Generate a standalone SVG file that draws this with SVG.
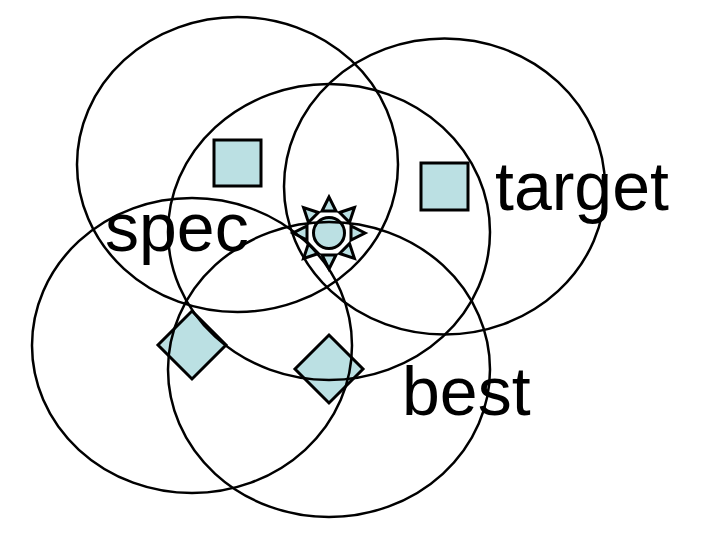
<svg xmlns="http://www.w3.org/2000/svg" xmlns:xlink="http://www.w3.org/1999/xlink" width="720" height="540" viewBox="0 0 720 540">
<style>
.ring{fill:none;stroke:#000;stroke-width:2.5}
.shape{fill:#BBE0E3;stroke:#000;stroke-width:3;stroke-linejoin:miter}
.lbl{font-family:"Liberation Sans",Arial,sans-serif;font-size:68px;fill:#000}
</style>
<defs>
<polygon id="ray" points="0,-36 -7,-22 7,-22" class="shape" style="stroke-width:3"/>
</defs>
<rect width="720" height="540" fill="#fff"/>
<g id="sq-spec"><rect class="shape" x="214" y="140" width="47" height="46"/></g>
<g id="sq-target"><rect class="shape" x="421" y="163" width="47" height="47"/></g>
<g id="dia-left"><polygon class="shape" points="192,311 226,345 192,379 158,345"/></g>
<g id="dia-right"><polygon class="shape" points="329,335 363,369 329,403 295,369"/></g>
<g id="sun" transform="translate(329,233)">
<use href="#ray"/>
<use href="#ray" transform="rotate(45)"/>
<use href="#ray" transform="rotate(90)"/>
<use href="#ray" transform="rotate(135)"/>
<use href="#ray" transform="rotate(180)"/>
<use href="#ray" transform="rotate(225)"/>
<use href="#ray" transform="rotate(270)"/>
<use href="#ray" transform="rotate(315)"/>
<circle class="shape" cx="0" cy="0" r="15.5"/>
</g>
<g id="circles">
<ellipse class="ring" cx="237.5" cy="164.5" rx="160.5" ry="147.5"/>
<ellipse class="ring" cx="444.5" cy="186.5" rx="160.5" ry="148"/>
<ellipse class="ring" cx="329" cy="232" rx="161" ry="148"/>
<ellipse class="ring" cx="192" cy="345.5" rx="160" ry="147.5"/>
<ellipse class="ring" cx="329" cy="369.5" rx="161" ry="147.5"/>
</g>
<g id="labels">
<text class="lbl" x="105" y="251">spec</text>
<text class="lbl" x="495" y="210">target</text>
<text class="lbl" x="402" y="415">best</text>
</g>
</svg>
